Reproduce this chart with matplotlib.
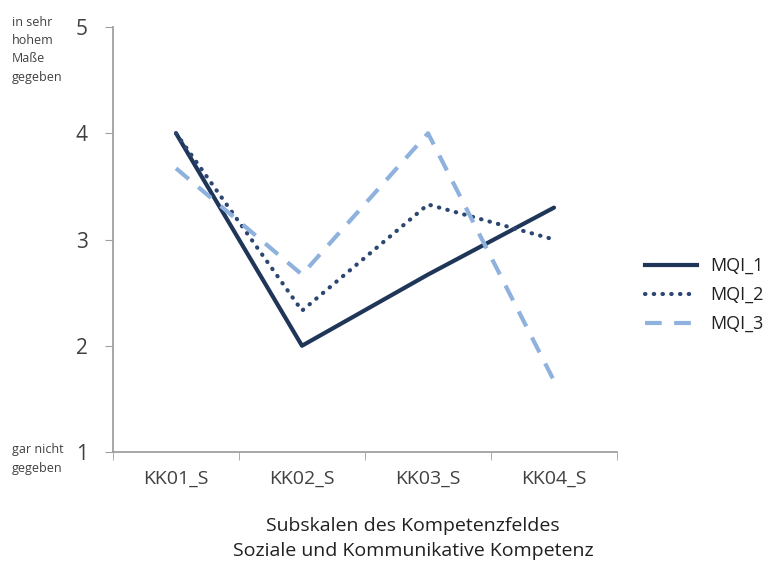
import numpy as np
import matplotlib.pyplot as plt
from matplotlib.lines import Line2D

plt.rcParams["font.family"] = ["Open Sans", "DejaVu Sans"]

categories = ["KK01_S", "KK02_S", "KK03_S", "KK04_S"]
series_names = ["MQI_1", "MQI_2", "MQI_3"]
mqi_1 = [4.0, 2.0, 2.67, 3.3]
mqi_2 = [4.0, 2.33, 3.33, 3.0]
mqi_3 = [3.67, 2.67, 4.0, 1.67]

DARK, MID, LIGHT = "#1f3659", "#2b4670", "#8eb1dd"
TXT = "#404040"
W, H = 772, 568

fig = plt.figure(figsize=(W / 100, H / 100), dpi=100)
ax = fig.add_axes([113 / W, 1 - 452 / H, (617 - 113) / W, (452 - 27) / H])

x = np.arange(len(categories))
ax.plot(x, mqi_1, color=DARK, linewidth=3, solid_capstyle="round", label=series_names[0])
ax.plot(x, mqi_2, color=MID, linewidth=3, linestyle=(0, (0.1, 2.0)),
        dash_capstyle="round", label=series_names[1])
ax.plot(x, mqi_3, color=LIGHT, linewidth=3, linestyle=(0, (4, 3)), label=series_names[2])

ax.set_xlim(-0.5, len(categories) - 0.5)
ax.set_ylim(1, 5)
ax.set_yticks([1, 2, 3, 4, 5])
ax.set_xticks(x)
ax.set_xticklabels(categories, fontsize=14, color=TXT)
ax.set_xticks(np.arange(-0.5, len(categories)), minor=True)
ax.tick_params(axis="x", which="major", length=0, pad=13)
ax.tick_params(axis="x", which="minor", length=6, color="#a0a0a0", direction="out")
ax.tick_params(axis="y", length=6, color="#a0a0a0", labelsize=15, labelcolor=TXT, pad=12)
for s in ["top", "right"]:
    ax.spines[s].set_visible(False)
for s in ["left", "bottom"]:
    ax.spines[s].set_color("#a0a0a0")
    ax.spines[s].set_linewidth(1.3)

# scale end labels, left of the y axis
fig.text(12 / W, 1 - 81 / H, "in sehr\nhohem\nMaße\ngegeben", fontsize=9,
         color=TXT, va="baseline", ha="left", linespacing=1.55)
fig.text(12 / W, 1 - 472 / H, "gar nicht\ngegeben", fontsize=9,
         color=TXT, va="baseline", ha="left", linespacing=1.55)

fig.text(413 / W, 1 - 526 / H, "Subskalen des Kompetenzfeldes", fontsize=14,
         color="#202020", ha="center", va="center")
fig.text(413 / W, 1 - 551 / H, "Soziale und Kommunikative Kompetenz", fontsize=14,
         color="#202020", ha="center", va="center")

handles = [
    Line2D([], [], color=DARK, linewidth=3),
    Line2D([], [], color=MID, linewidth=3, linestyle=(0, (0.1, 2.0)), dash_capstyle="round"),
    Line2D([], [], color=LIGHT, linewidth=3, linestyle=(0, (4, 3))),
]
fig.legend(handles, series_names, loc="center left", bbox_to_anchor=(634 / W, 1 - 295 / H),
           frameon=False, fontsize=13, handlelength=2.9, labelspacing=0.6, handletextpad=0.7,
           labelcolor="#202020", borderaxespad=0.2)

fig.savefig("out.png", dpi=100)
